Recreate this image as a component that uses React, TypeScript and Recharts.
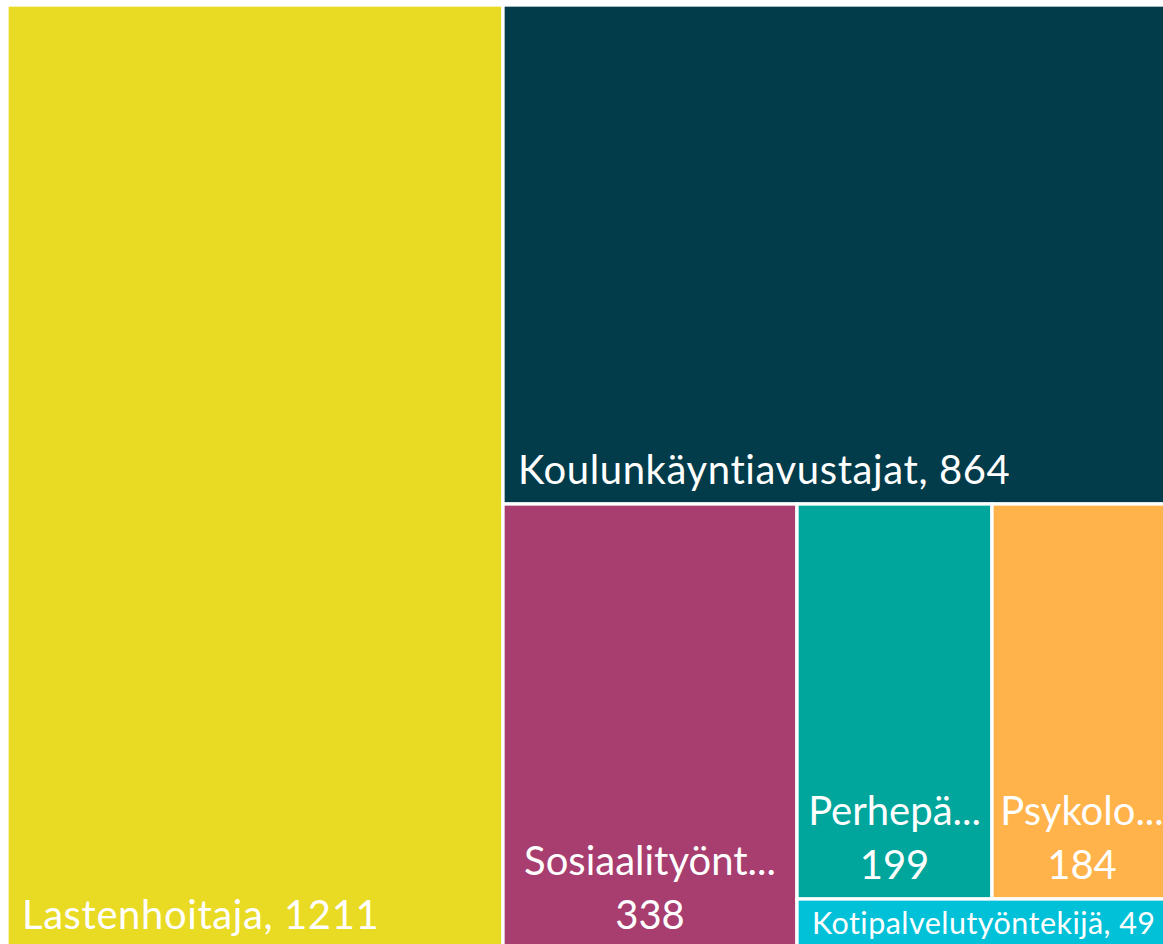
import React from 'react';
import { Treemap } from 'recharts';

const categories: string[] = [
  'Lastenhoitaja',
  'Koulunkäyntiavustajat',
  'Sosiaalityöntekijä',
  'Perhepäivähoitaja',
  'Psykologi',
  'Kotipalvelutyöntekijä',
];

const counts: number[] = [1211, 864, 338, 199, 184, 49];

const colors: string[] = ['#E9DA24', '#023B4A', '#A83D6F', '#00A59B', '#FFB34A', '#00C1D8'];

// first category on its own, the rest grouped so the layout splits like the original
const treeData = [
  { name: categories[0], size: counts[0] },
  {
    name: 'muut',
    children: categories.slice(1).map((name, i) => ({ name, size: counts[i + 1] })),
  },
];

const FONT = 'Lato, sans-serif';
const ctx = document.createElement('canvas').getContext('2d');
const textWidth = (text: string, fontSize: number, spacing = 0) => {
  if (!ctx) return text.length * fontSize * 0.5;
  ctx.font = `${fontSize}px Lato`;
  return ctx.measureText(text).width + text.length * spacing;
};

const Tile = (props: any) => {
  const { x, y, width, height, name, value, children } = props;
  if (children && children.length) return <g />;
  const idx = categories.indexOf(name);
  const fill = colors[idx] ?? '#999';
  const fontSize = Math.min(40, height * 0.61);
  const spacing = (0.6 * fontSize) / 40;
  const full = `${name}, ${value}`;
  const bottom = y + height - fontSize * 0.5;
  let label: React.ReactNode;

  if (textWidth(full, fontSize, spacing) <= width - 16) {
    label = (
      <text
        x={x + 15}
        y={bottom}
        fill="#fff"
        fontSize={fontSize}
        fontFamily={FONT}
        style={{ fontVariantLigatures: 'none', letterSpacing: spacing }}
      >
        {full}
      </text>
    );
  } else {
    const room = width * 0.917;
    let short = name;
    if (textWidth(name, fontSize) > room) {
      let k = name.length;
      while (k > 1 && textWidth(name.slice(0, k) + '...', fontSize) > room) k--;
      short = name.slice(0, k) + '...';
    }
    const cx = x + width / 2;
    label = (
      <g fill="#fff" fontSize={fontSize} fontFamily={FONT} textAnchor="middle" style={{ fontVariantLigatures: 'none' }}>
        <text x={cx} y={bottom - fontSize * 1.36}>{short}</text>
        <text x={cx} y={bottom}>{value}</text>
      </g>
    );
  }

  return (
    <g>
      <rect x={x} y={y} width={width} height={height} fill={fill} stroke="#fff" strokeWidth={3.3} />
      {label}
    </g>
  );
};

const App: React.FC = () => (
  <div style={{ position: 'fixed', left: 0, top: 0, width: 1163, height: 944, overflow: 'hidden', background: '#fff' }}>
    <div style={{ position: 'absolute', left: 7, top: 5 }}>
      <Treemap
        width={1165}
        height={944}
        data={treeData}
        dataKey="size"
        nameKey="name"
        aspectRatio={1.15}
        type="flat"
        isAnimationActive={false}
        content={<Tile />}
      />
    </div>
  </div>
);

export default App;
